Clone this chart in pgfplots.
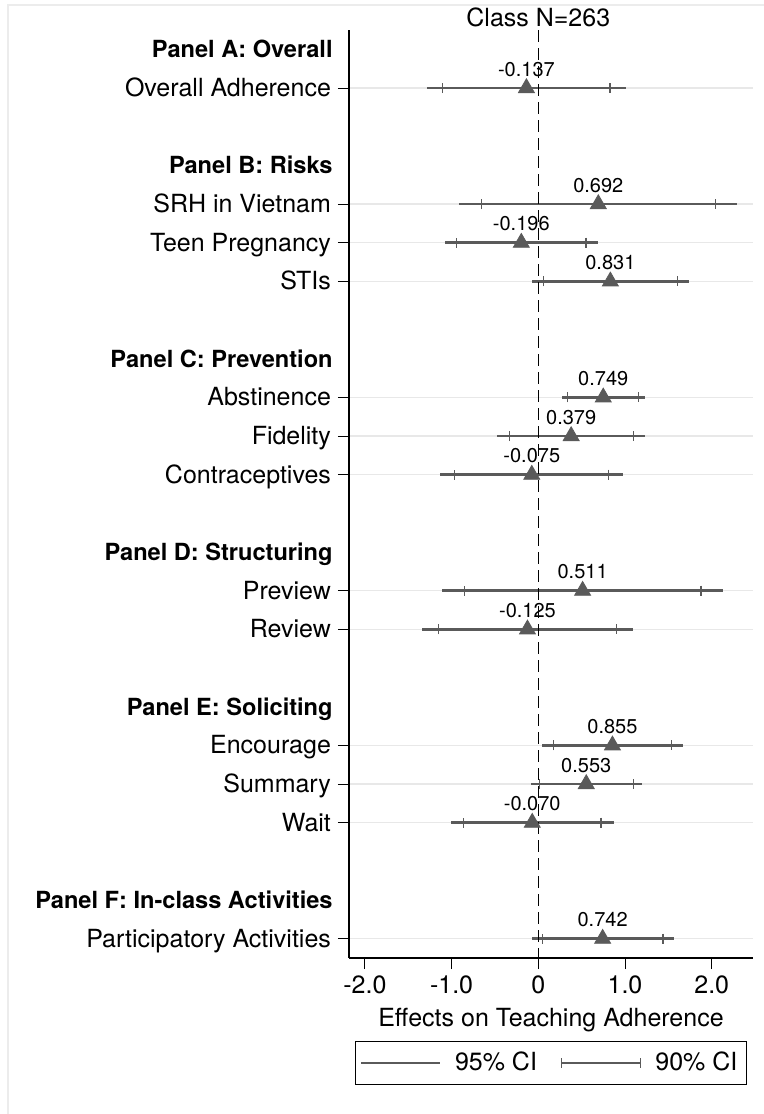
\documentclass[border=0pt]{standalone}
\usepackage{fontspec}
\setmainfont{TeX Gyre Heros}
\usepackage{pgfplots}
\usepackage{pgfplotstable}
\pgfplotsset{compat=1.18}
\definecolor{cigray}{RGB}{90,90,90}
\definecolor{gridgray}{RGB}{232,232,232}
\definecolor{framegray}{RGB}{236,236,236}

\pgfplotstableread{
y est e95 e90 lab
0 -0.137 1.144 0.964 -0.137
3 0.692 1.603 1.350 0.692
4 -0.196 0.884 0.745 -0.196
5 0.831 0.905 0.770 0.831
8 0.749 0.480 0.410 0.749
9 0.379 0.850 0.715 0.379
10 -0.075 1.057 0.888 -0.075
13 0.511 1.624 1.365 0.511
14 -0.125 1.218 1.024 -0.125
17 0.855 0.808 0.680 0.855
18 0.553 0.640 0.542 0.553
19 -0.070 0.940 0.794 -0.070
22 0.742 0.820 0.695 0.742
}\coefs

\newcommand{\mainfs}{\fontsize{12.5}{15}\selectfont}
\newcommand{\panelfs}{\fontsize{11.8}{14}\selectfont\bfseries}
\tikzset{panellab/.style={anchor=base east, font=\panelfs, inner sep=0pt, xshift=-8pt, yshift=-4.3pt}}

\begin{document}
\begin{tikzpicture}
\useasboundingbox (0,0) rectangle (382pt,557pt);
\draw[framegray, line width=1pt] (4pt,0) -- (4pt,554.5pt) -- (382pt,554.5pt);
\begin{axis}[
  at={(174.5pt,78pt)}, anchor=south west,
  scale only axis, width=202pt, height=464pt,
  xmin=-2.183, xmax=2.476, ymin=-1.5, ymax=22.5,
  y dir=reverse,
  axis x line*=bottom, axis y line*=left,
  axis line style={black, line width=0.6pt},
  tick align=outside,
  major tick length=5.5pt,
  tick style={black, line width=0.5pt},
  xtick={-2,-1,0,1,2},
  xticklabels={-2.0,-1.0,0,1.0,2.0},
  ytick={0,3,4,5,8,9,10,13,14,17,18,19,22},
  yticklabels={Overall Adherence,SRH in Vietnam,Teen Pregnancy,STIs,Abstinence,Fidelity,Contraceptives,Preview,Review,Encourage,Summary,Wait,Participatory Activities},
  ticklabel style={font=\mainfs},
  yticklabel style={anchor=base east, yshift=-4.3pt},
  ymajorgrids,
  grid style={gridgray, line width=0.8pt},
  xlabel={Effects on Teaching Adherence},
  xlabel style={font=\mainfs},
  legend columns=2,
  legend style={at={(0.5,0)}, anchor=north, yshift=-41.35pt, draw=black, line width=0.5pt,
    font=\mainfs, inner xsep=2.5pt, inner ysep=3.5pt,
    /tikz/every odd column/.append style={column sep=5pt},
    /tikz/every even column/.append style={column sep=10pt}},
  legend cell align=left,
  clip=false,
]
\addplot[draw=none, mark=none, forget plot,
  error bars/.cd, x dir=both, x explicit, error mark=none,
  error bar style={cigray, line width=1.2pt}]
  table[x=est, y=y, x error=e95] {\coefs};
\addplot[draw=none, mark=none, forget plot,
  error bars/.cd, x dir=both, x explicit, error mark=|,
  error bar style={cigray, line width=1.2pt},
  error mark options={cigray, line width=0.6pt, mark size=2.5pt}]
  table[x=est, y=y, x error=e90] {\coefs};
\addplot[only marks, forget plot, mark=triangle*, mark size=4.6pt,
  mark options={fill=cigray, draw=cigray},
  point meta=explicit symbolic,
  nodes near coords,
  nodes near coords style={font=\fontsize{10}{12}\selectfont, anchor=south, inner sep=0pt, yshift=5.5pt, text=black}]
  table[x=est, y=y, meta=lab] {\coefs};
\addplot[forget plot, black, line width=0.7pt, dash pattern=on 6pt off 3pt]
  coordinates {(0,-1.5) (0,22.5)};
\addlegendimage{legend image code/.code={\draw[cigray, line width=0.7pt] (0pt,0pt) -- (39.5pt,0pt);}}
\addlegendentry{95\% CI}
\addlegendimage{legend image code/.code={\draw[cigray, line width=0.7pt] (0pt,0pt) -- (39.5pt,0pt); \draw[cigray, line width=0.6pt] (0pt,-2.4pt) -- (0pt,2.4pt) (39.5pt,-2.4pt) -- (39.5pt,2.4pt);}}
\addlegendentry{90\% CI}
\node[anchor=base, font=\mainfs, inner sep=0pt] at (axis cs:0,-1.5) [yshift=1.6pt] {Class N=263};
\node[panellab] at (axis cs:-2.183,-1) {Panel A: Overall};
\node[panellab] at (axis cs:-2.183,2) {Panel B: Risks};
\node[panellab] at (axis cs:-2.183,7) {Panel C: Prevention};
\node[panellab] at (axis cs:-2.183,12) {Panel D: Structuring};
\node[panellab] at (axis cs:-2.183,16) {Panel E: Soliciting};
\node[panellab] at (axis cs:-2.183,21) {Panel F: In-class Activities};
\end{axis}
\end{tikzpicture}
\end{document}
